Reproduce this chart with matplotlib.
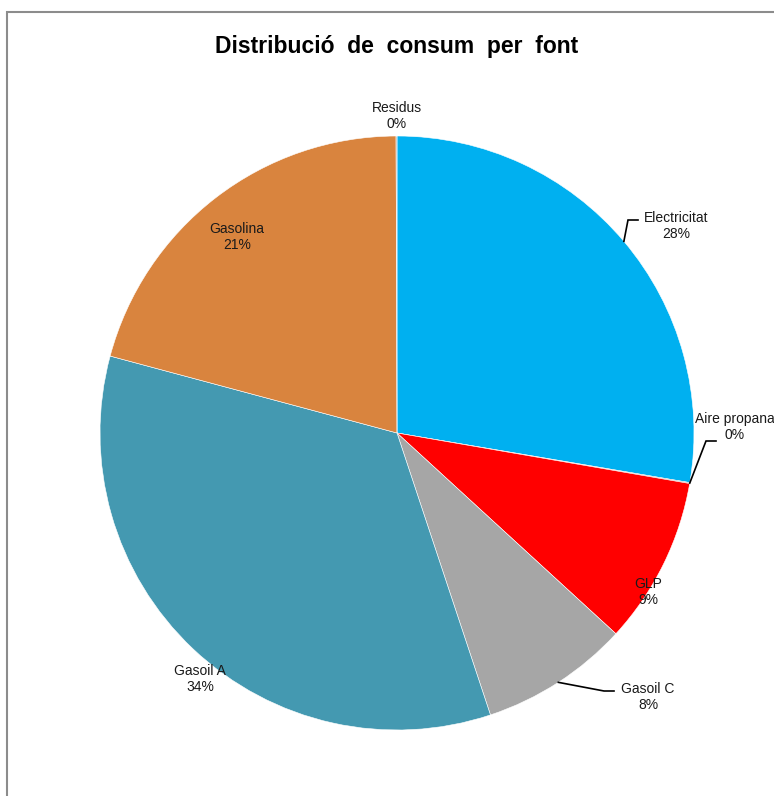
import numpy as np
import matplotlib
matplotlib.use('Agg')
import matplotlib.pyplot as plt
from matplotlib.patches import Rectangle

plt.rcParams['font.family'] = ['Liberation Sans', 'DejaVu Sans']

fonts = ['Electricitat', 'Aire propana', 'GLP', 'Gasoil C', 'Gasoil A', 'Gasolina', 'Residus']
consum = [27.7, 0.05, 9.1, 8.1, 34.3, 20.8, 0.05]
colors = ['#00B0F0', '#7F7F7F', '#FF0000', '#A6A6A6', '#4499B1', '#D9843E', '#7F7F7F']

# label positions (pixels of the reference, centre of the text block)
label_px = [(676, 226), (735, 427), (648, 592), (648, 697), (200, 679), (237, 237), (397, 116)]
# leader lines: elbow point in pixels, or None
elbow_px = [(628, 220), (706, 441), None, (604, 691), None, None, None]
hook_len = 10

W, H = 774, 796
cx, cy, R = 397, 433, 297

def to_data(p):
    return ((p[0] - cx) / R, (cy - p[1]) / R)

fig = plt.figure(figsize=(W / 100, H / 100), dpi=100)
ax = fig.add_axes([0, 0, 1, 1])

wedges, _ = ax.pie(consum, colors=colors, startangle=90, counterclock=False,
                   radius=1.0, wedgeprops=dict(linewidth=0.4, edgecolor='white'))
ax.set_aspect('auto')
ax.set_xlim(-cx / R, (W - cx) / R)
ax.set_ylim((cy - H) / R, cy / R)
ax.axis('off')

total = sum(consum)
for i, w in enumerate(wedges):
    pct = round(consum[i] / total * 100)
    x, y = to_data(label_px[i])
    ax.text(x, y, '%s\n%d%%' % (fonts[i], pct), ha='center', va='center',
            fontsize=10, color='#1a1a1a', linespacing=1.2)
    if elbow_px[i] is not None:
        mid = np.deg2rad((w.theta1 + w.theta2) / 2)
        sx, sy = np.cos(mid), np.sin(mid)
        ex, ey = to_data(elbow_px[i])
        hx = ex + hook_len / R
        ax.plot([sx, ex, hx], [sy, ey, ey], color='black', lw=1.2,
                solid_joinstyle='miter')

ax.text(0, to_data((0, 47))[1], 'Distribució  de  consum  per  font', ha='center', va='center',
        fontsize=16.5, fontweight='bold')

fig.patches.append(Rectangle((7 / W, -0.1), 1.2, (H - 12) / H + 0.1, transform=fig.transFigure,
                             fill=False, edgecolor='#8c8c8c', lw=1.5))

fig.savefig('out.png', dpi=100)
